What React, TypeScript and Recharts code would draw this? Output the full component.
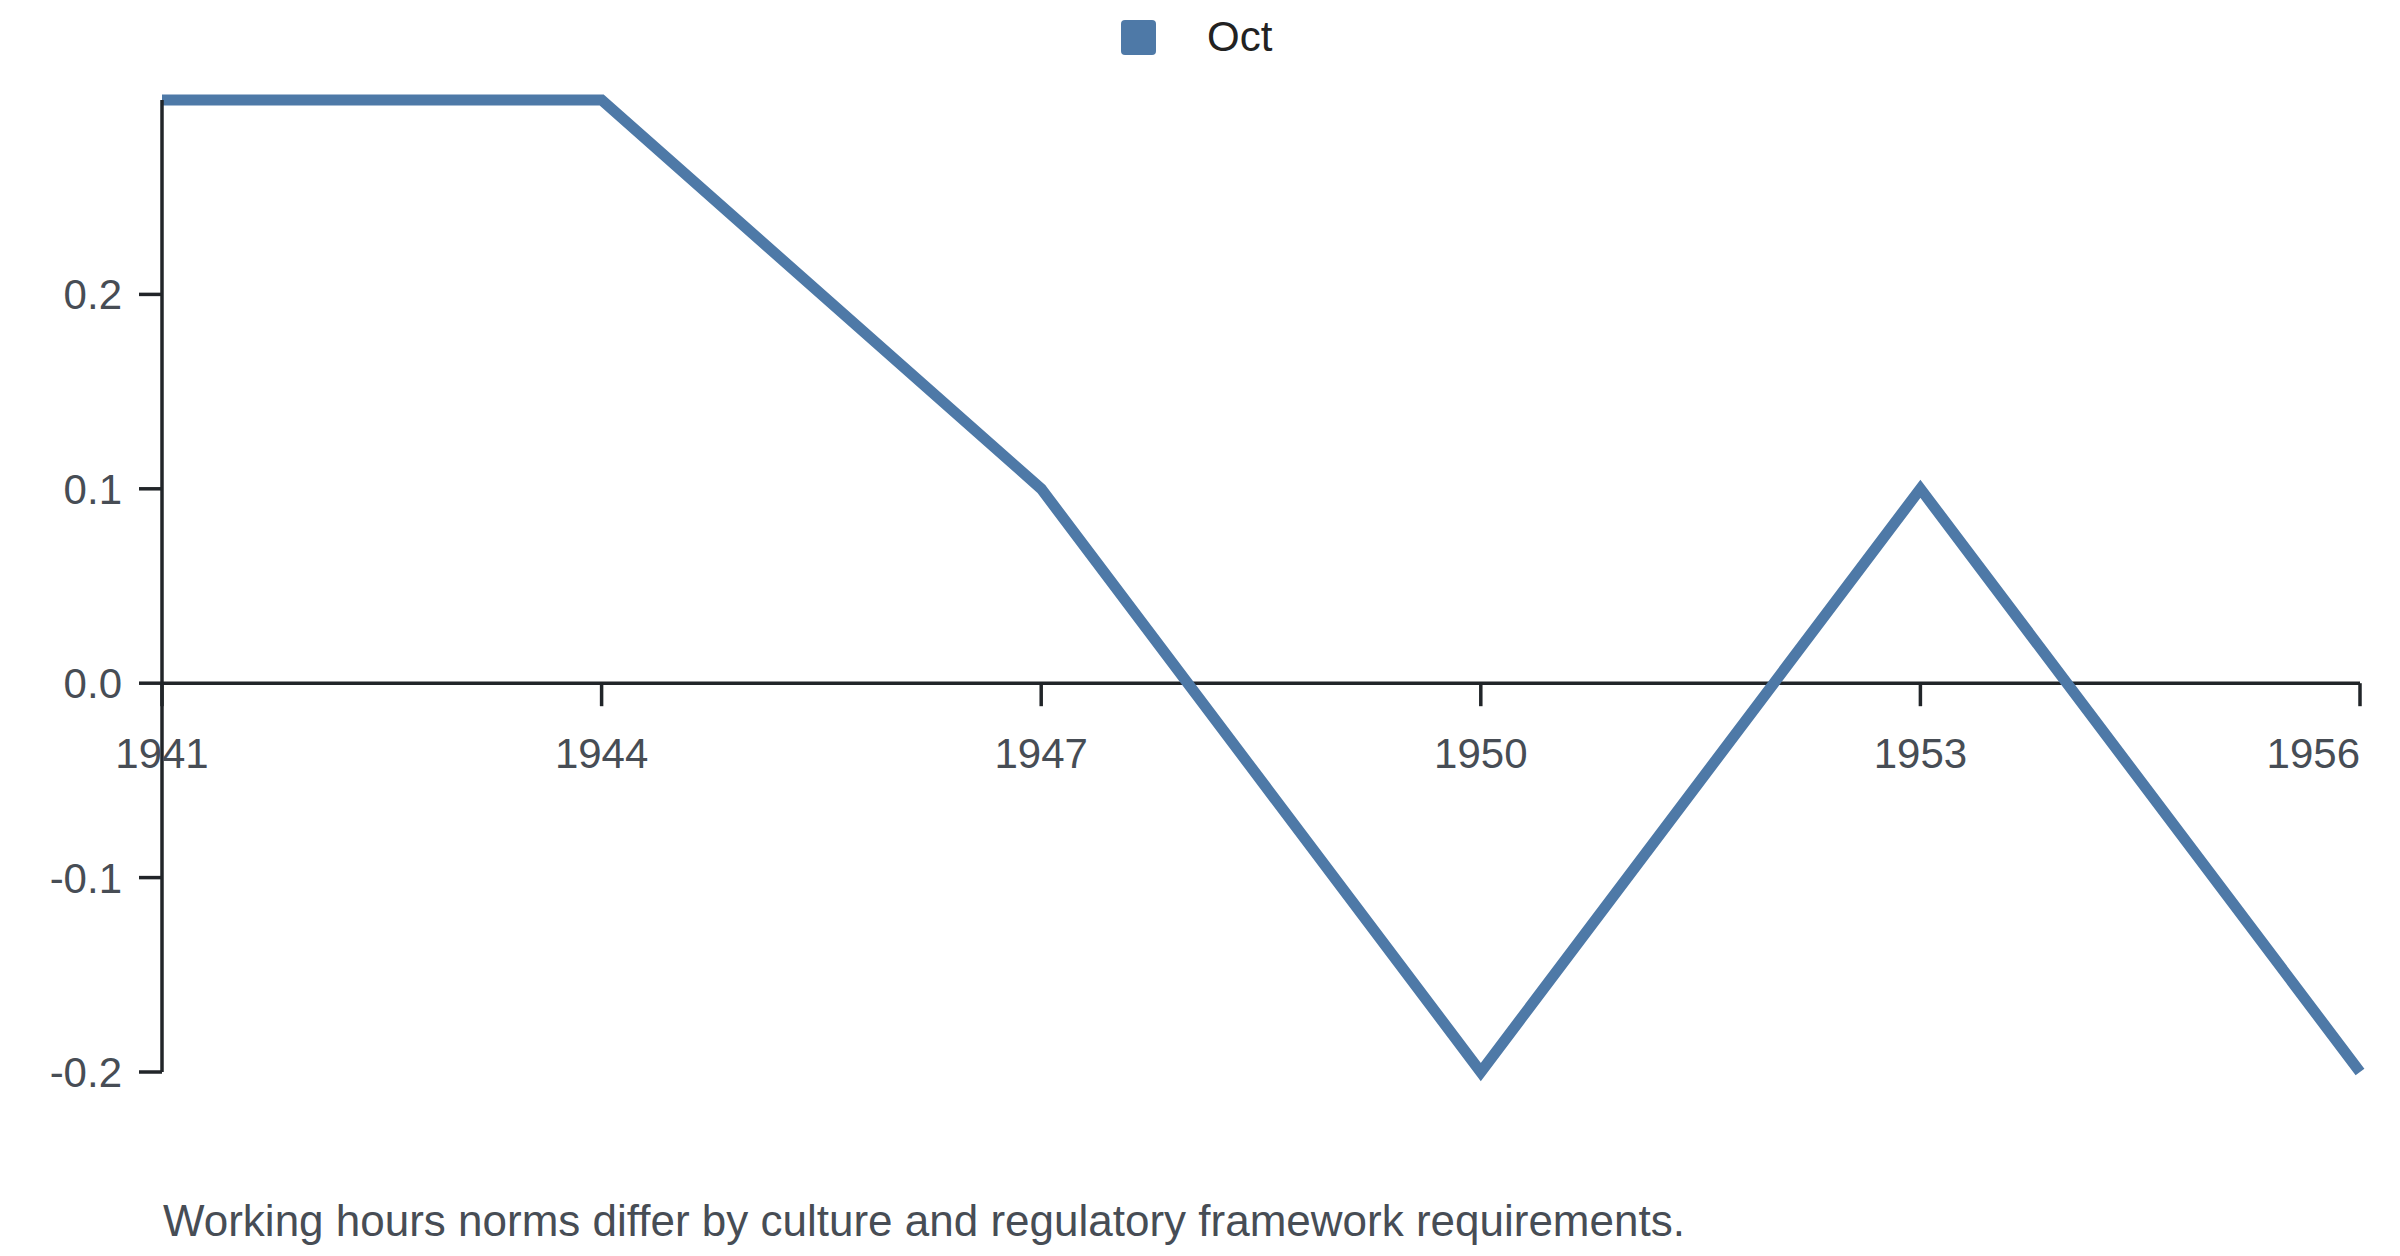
import React from 'react'
import { LineChart, Line, XAxis, YAxis, ReferenceLine, Legend } from 'recharts'

// chart values
const years = [1941, 1944, 1947, 1950, 1953, 1956]
const octValues = [0.3, 0.3, 0.1, -0.2, 0.1, -0.2]
const yTicks = [-0.2, -0.1, 0, 0.1, 0.2]
const yDomain: [number, number] = [-0.2, 0.3]
const seriesName = 'Oct'
const note = 'Working hours norms differ by culture and regulatory framework requirements.'

const data = years.map((year, i) => ({ year, oct: octValues[i] }))

const FONT = '"Liberation Sans", Arial, Helvetica, sans-serif'
const AXIS = '#212529'
const LABEL = '#474d55'
const BLUE = '#4e79a7'
const TICK_FONT = 42

const W = 2384
const LEGEND_H = 92
const PLOT_H = 972
const X_AXIS_H = 50
const H = LEGEND_H + PLOT_H + X_AXIS_H
// pixel row of the zero line, used to hang the year ticks on it
const ZERO_Y = LEGEND_H + (yDomain[1] / (yDomain[1] - yDomain[0])) * PLOT_H

function YearTick({ x, payload, index }: { x?: number; payload?: { value: number }; index?: number }) {
  const last = index === years.length - 1
  return (
    <g>
      <line x1={x} x2={x} y1={ZERO_Y} y2={ZERO_Y + 23} stroke={AXIS} strokeWidth={3.5} />
      <text
        x={x}
        y={ZERO_Y + 85}
        textAnchor={last ? 'end' : 'middle'}
        fill={LABEL}
        fontSize={TICK_FONT}
        fontFamily={FONT}
      >
        {payload?.value}
      </text>
    </g>
  )
}

function LegendBox() {
  return (
    <div style={{ position: 'relative', height: LEGEND_H, fontFamily: FONT }}>
      <span style={{ position: 'absolute', left: 1113, top: 12, width: 35, height: 35, background: BLUE, borderRadius: 4 }} />
      <span style={{ position: 'absolute', left: 1199, top: 8, fontSize: 42, lineHeight: '42px', color: '#222' }}>{seriesName}</span>
    </div>
  )
}

export default function App() {
  return (
    <div style={{ position: 'relative', width: W, height: 1240 }}>
      <LineChart width={W} height={H} data={data} margin={{ top: 0, right: 32, bottom: 0, left: 0 }}>
        <Legend verticalAlign="top" content={() => <LegendBox />} />
        <XAxis
          dataKey="year"
          type="number"
          domain={[years[0], years[years.length - 1]]}
          ticks={years}
          axisLine={false}
          tickLine={false}
          tick={<YearTick />}
          height={X_AXIS_H}
          interval={0}
        />
        <YAxis
          domain={yDomain}
          ticks={yTicks}
          interval={0}
          width={154}
          tickSize={23}
          tickMargin={17}
          tickFormatter={(v: number) => v.toFixed(1)}
          axisLine={{ stroke: AXIS, strokeWidth: 3.5 }}
          tickLine={{ stroke: AXIS, strokeWidth: 3.5 }}
          tick={{ fill: LABEL, fontSize: TICK_FONT, fontFamily: FONT }}
        />
        <ReferenceLine y={0} stroke={AXIS} strokeWidth={3.5} />
        <Line
          type="linear"
          dataKey="oct"
          name={seriesName}
          stroke={BLUE}
          strokeWidth={11}
          dot={false}
          activeDot={false}
          isAnimationActive={false}
        />
      </LineChart>
      <div style={{ position: 'absolute', left: 155, top: 1191, fontFamily: FONT, fontSize: 44, lineHeight: '44px', color: LABEL, whiteSpace: 'nowrap' }}>
        {note}
      </div>
    </div>
  )
}
